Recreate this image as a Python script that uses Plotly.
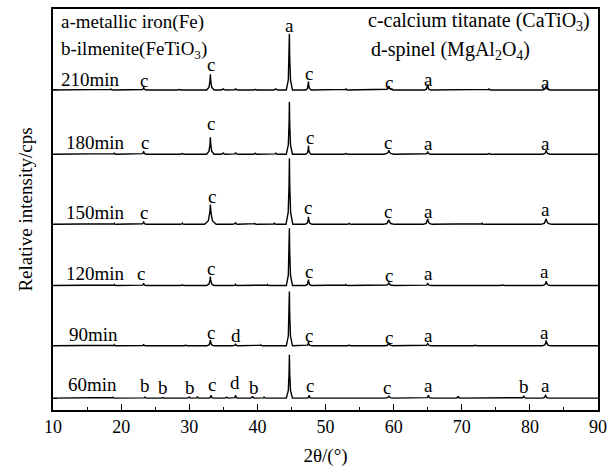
import plotly.graph_objects as go

# ---- data (2theta in degrees, intensity in arbitrary cps units) ----
series_names = ["60min", "90min", "120min", "150min", "180min", "210min"]
offsets = [120, 650, 1260, 1880, 2590, 3240]

# peaks: position, height, half-width at base
pk60_pos = [18.8, 23.5, 26.1, 30.0, 31.2, 33.2, 35.5, 36.8, 39.3, 41.0, 44.7, 47.6, 59.3, 65.1, 69.5, 79.1, 82.3]
pk60_h   = [12, 15, 10, 15, 18, 30, 14, 30, 20, 14, 440, 30, 25, 30, 20, 25, 35]
pk60_w   = [0.3, 0.3, 0.3, 0.3, 0.3, 0.35, 0.3, 0.35, 0.3, 0.3, 0.45, 0.35, 0.6, 0.45, 0.3, 0.4, 0.45]

pk90_pos = [19.0, 23.3, 29.5, 33.1, 36.8, 40.5, 44.7, 47.5, 53.5, 59.3, 65.0, 72.0, 82.4]
pk90_h   = [10, 15, 10, 60, 15, 10, 550, 40, 10, 30, 30, 10, 55]
pk90_w   = [0.3, 0.3, 0.3, 0.5, 0.4, 0.3, 0.45, 0.4, 0.3, 0.6, 0.5, 0.3, 0.6]

pk120_pos = [19.0, 23.3, 29.0, 33.1, 36.8, 41.5, 44.7, 47.5, 53.0, 59.3, 65.0, 76.0, 82.4]
pk120_h   = [10, 25, 10, 90, 12, 10, 580, 60, 10, 30, 25, 10, 45]
pk120_w   = [0.3, 0.4, 0.3, 0.55, 0.3, 0.3, 0.45, 0.45, 0.3, 0.7, 0.5, 0.3, 0.6]

pk150_pos = [19.0, 23.3, 29.0, 33.1, 36.8, 39.6, 42.5, 44.7, 47.5, 53.5, 59.3, 65.0, 73.0, 82.4]
pk150_h   = [10, 30, 12, 200, 15, 12, 15, 670, 75, 12, 45, 55, 10, 55]
pk150_w   = [0.3, 0.45, 0.3, 0.85, 0.4, 0.3, 0.3, 0.5, 0.5, 0.3, 0.8, 0.65, 0.3, 0.8]

pk180_pos = [19.0, 23.3, 29.0, 33.1, 35.0, 36.8, 39.7, 42.7, 44.7, 47.5, 53.0, 59.3, 65.0, 74.0, 82.4]
pk180_h   = [10, 30, 10, 170, 15, 18, 12, 15, 530, 85, 10, 40, 28, 10, 40]
pk180_w   = [0.3, 0.4, 0.3, 0.55, 0.3, 0.35, 0.3, 0.3, 0.45, 0.4, 0.3, 0.75, 0.45, 0.3, 0.55]

pk210_pos = [18.5, 23.3, 28.5, 33.1, 35.0, 36.8, 39.7, 42.7, 44.7, 47.5, 53.0, 59.3, 65.0, 74.0, 82.4]
pk210_h   = [10, 30, 10, 160, 15, 15, 10, 15, 570, 85, 10, 40, 55, 10, 45]
pk210_w   = [0.3, 0.4, 0.3, 0.55, 0.3, 0.35, 0.3, 0.3, 0.45, 0.4, 0.3, 0.7, 0.45, 0.3, 0.55]

peak_sets = [
    (pk60_pos, pk60_h, pk60_w),
    (pk90_pos, pk90_h, pk90_w),
    (pk120_pos, pk120_h, pk120_w),
    (pk150_pos, pk150_h, pk150_w),
    (pk180_pos, pk180_h, pk180_w),
    (pk210_pos, pk210_h, pk210_w),
]

# peak labels: (2theta, y, text) per series
lab60 = [(23.53, 250, "b"), (26.15, 230, "b"), (30.07, 230, "b"), (33.27, 260, "c"), (36.76, 280, "d"),
         (39.53, 230, "b"), (47.67, 250, "c"), (59.02, 230, "c"), (65.13, 250, "a"), (79.09, 240, "b"),
         (82.29, 250, "a")]
lab90 = [(33.13, 780, "c"), (36.91, 750, "d"), (47.53, 750, "c"), (59.31, 730, "c"), (65.13, 750, "a"),
         (82.15, 780, "a")]
lab120 = [(22.95, 1380, "c"), (33.13, 1430, "c"), (47.53, 1400, "c"), (59.31, 1360, "c"), (65.13, 1380, "a"),
          (82.15, 1400, "a")]
lab150 = [(23.38, 2000, "c"), (33.27, 2160, "c"), (47.4, 2050, "c"), (59.16, 2010, "c"), (65.13, 2010, "a"),
          (82.29, 2030, "a")]
lab180 = [(23.53, 2710, "c"), (33.13, 2900, "c"), (47.67, 2760, "c"), (59.16, 2710, "c"), (65.13, 2700, "a"),
          (82.29, 2700, "a")]
lab210 = [(23.38, 3340, "c"), (33.25, 3500, "c"), (44.76, 3890, "a"), (47.53, 3410, "c"), (59.3, 3320, "c"),
          (65.13, 3350, "a"), (82.29, 3320, "a")]
peak_labels = [lab60, lab90, lab120, lab150, lab180, lab210]

# sample labels: (2theta left, y)
name_pos = [(12.04, 260), (12.18, 760), (11.75, 1380), (11.75, 2000), (11.75, 2710), (11.02, 3350)]

legend_items = [
    (11.1, 3930, "a-metallic iron(Fe)"),
    (11.0, 3640, "b-ilmenite(FeTiO<sub>3</sub>)"),
    (56.1, 3930, "c-calcium titanate (CaTiO<sub>3</sub>)"),
    (56.6, 3640, "d-spinel (MgAl<sub>2</sub>O<sub>4</sub>)"),
]

x_ticks = [10, 20, 30, 40, 50, 60, 70, 80, 90]

FONT = "Liberation Serif, Times New Roman, serif"

fig = go.Figure()

for (pos, hs, ws), off, name in zip(peak_sets, offsets, series_names):
    pts = [(10.0, 0.0), (90.0, 0.0)]
    for p, h, w in zip(pos, hs, ws):
        pts += [(p - w, 0.0), (p - w * 0.35, h * 0.18), (p - w * 0.1, h * 0.6), (p, h),
                (p + w * 0.1, h * 0.6), (p + w * 0.35, h * 0.18), (p + w, 0.0)]
    pts.sort(key=lambda t: t[0])
    xs = [t[0] for t in pts]
    ys = [t[1] + off for t in pts]
    fig.add_trace(go.Scatter(x=xs, y=ys, mode="lines", name=name,
                             line=dict(color="black", width=1.4), showlegend=False))

annotations = []
for labs in peak_labels:
    for x, y, t in labs:
        annotations.append(dict(x=x, y=y, xref="x", yref="y", text=t, showarrow=False,
                                font=dict(family=FONT, size=19, color="black"), borderpad=0,
                                xanchor="center", yanchor="middle"))
for (x, y), name in zip(name_pos, series_names):
    annotations.append(dict(x=x, y=y, xref="x", yref="y", text=name, showarrow=False,
                            font=dict(family=FONT, size=19, color="black"), borderpad=0,
                            xanchor="left", yanchor="middle"))
for i, (x, y, t) in enumerate(legend_items):
    annotations.append(dict(x=x, y=y, xref="x", yref="y", text=t, showarrow=False,
                            font=dict(family=FONT, size=19 if i < 2 else 20, color="black"),
                            borderpad=0, xanchor="left", yanchor="middle"))
# stray label among the tick labels
annotations.append(dict(x=76.04, y=-180, xref="x", yref="y", text="b", showarrow=False,
                        font=dict(family=FONT, size=19, color="black"), borderpad=0,
                        xanchor="center", yanchor="middle"))

fig.update_layout(
    width=614, height=470,
    margin=dict(l=53, r=11, t=7, b=57),
    paper_bgcolor="white", plot_bgcolor="white",
    font=dict(family=FONT, size=18, color="black"),
    annotations=annotations,
    xaxis=dict(range=[10, 90], tickvals=x_ticks, ticks="inside", ticklen=6, tickwidth=1.2,
               tickcolor="black", showline=True, linecolor="black", linewidth=1.5, mirror=True,
               showgrid=False, zeroline=False,
               minor=dict(dtick=5, tick0=10, ticks="inside", ticklen=3, tickwidth=1.2, tickcolor="black",
                          showgrid=False),
               tickfont=dict(family=FONT, size=18, color="black"),
               title=dict(text="2θ/(°)", font=dict(family=FONT, size=19, color="black"), standoff=12)),
    yaxis=dict(range=[0, 4060], tickvals=offsets, ticks="inside", ticklen=4, tickwidth=1.2,
               tickcolor="black", showticklabels=False, showline=True, linecolor="black",
               linewidth=1.5, mirror=True, showgrid=False, zeroline=False,
               title=dict(text="Relative intensity/cps", font=dict(family=FONT, size=19, color="black"),
                          standoff=14)),
)

fig.write_html("out.html")
